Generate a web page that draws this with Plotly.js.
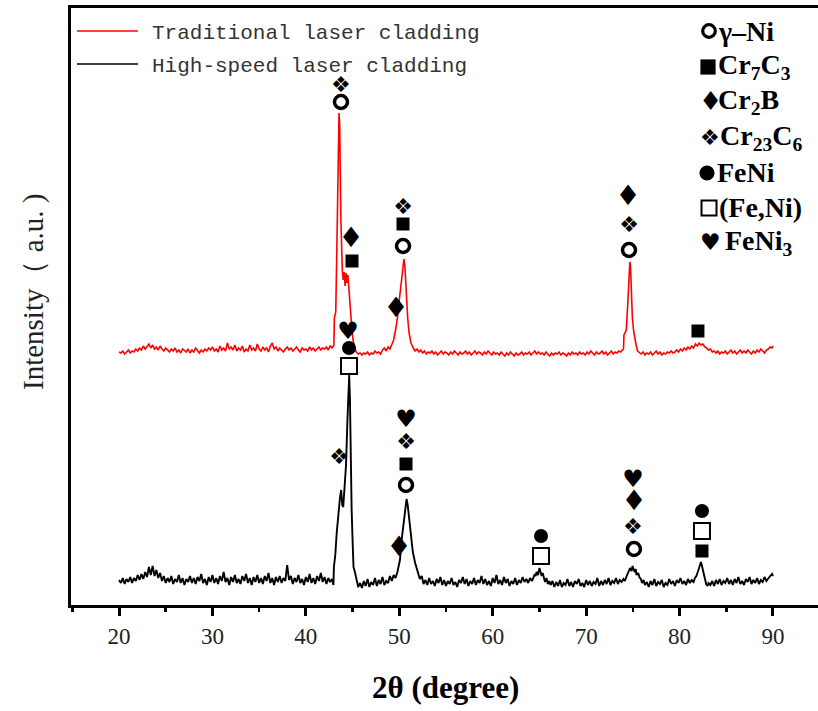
<!DOCTYPE html>
<html>
<head>
<meta charset="utf-8">
<script src="https://cdn.plot.ly/plotly-3.0.1.min.js"></script>
<style>html,body{margin:0;padding:0;background:#fff;}</style>
</head>
<body>
<div id="chart" style="width:818px;height:711px;"></div>
<script>
// ---- XRD patterns: [2θ (deg), intensity (a.u., incl. stacking offset)] ----
// Traditional laser cladding (red, upper pattern)
const redBg1 = [[20.0,253],[20.2,252],[20.4,254],[20.6,251],[20.8,253],[21.0,255],[21.2,252],[21.4,254],[21.6,253],[21.8,256],
  [22.0,254],[22.2,257],[22.4,255],[22.6,259],[22.8,256],[23.0,258],[23.2,261],[23.4,257],[23.6,260],[23.8,256],
  [24.0,258],[24.2,255],[24.4,259],[24.6,256],[24.8,254],[25.0,257],[25.2,255],[25.4,253],[25.6,256],[25.8,254],
  [26.0,257],[26.2,253],[26.4,255],[26.6,252],[26.8,256],[27.0,254],[27.2,253],[27.4,256],[27.6,252],[27.8,255],
  [28.0,253],[28.2,257],[28.4,254],[28.6,252],[28.8,255],[29.0,253],[29.2,256],[29.4,254],[29.6,257],[29.8,255],
  [30.0,258],[30.2,254],[30.4,256],[30.6,253],[30.8,259],[31.0,255],[31.2,257],[31.4,254],[31.6,262],[31.8,256],
  [32.0,258],[32.2,255],[32.4,260],[32.6,254],[32.8,257],[33.0,255],[33.2,259],[33.4,253],[33.6,256],[33.8,254],
  [34.0,260],[34.2,255],[34.4,257],[34.6,254],[34.8,261],[35.0,256],[35.2,254],[35.4,258],[35.6,255],[35.8,257],
  [36.0,253],[36.2,259],[36.4,262],[36.6,256],[36.8,258],[37.0,254],[37.2,257],[37.4,255],[37.6,253],[37.8,256],
  [38.0,258],[38.2,255],[38.4,257],[38.6,254],[38.8,256],[39.0,258],[39.2,255],[39.4,253],[39.6,257],[39.8,255],
  [40.0,256],[40.2,254],[40.4,258],[40.6,255],[40.8,257],[41.0,254],[41.2,256],[41.4,258],[41.6,255],[41.8,257],
  [42.0,256],[42.2,258],[42.4,255],[42.6,259],[42.8,257]];
const redPeak44 = [[43.0,260],[43.05,287],[43.2,293],[43.35,375],[43.48,480],[43.55,492],[43.62,480],[43.75,385],[43.9,335],[44.0,325],
  [44.1,333],[44.2,319],[44.3,332],[44.4,322],[44.5,330],[44.6,315],[44.75,297],[44.9,279],[45.05,265],[45.2,257]];
const redBg2 = [[45.4,253],[45.6,251],[45.8,252],[46.0,250],[46.2,252],[46.4,251],[46.6,253],[46.8,250],[47.0,252],[47.2,251],
  [47.4,254],[47.6,252],[47.8,253],[48.0,251],[48.2,255],[48.4,257],[48.6,254],[48.8,258],[49.0,256]];
const redPeak50 = [[49.2,261],[49.4,265],[49.6,275],[49.8,287],[50.0,305],[50.2,321],[50.38,341],[50.5,346],[50.6,339],[50.75,311],
  [50.9,287],[51.05,272],[51.25,262],[51.5,257],[51.7,254],[51.9,256],[52.1,253],[52.3,255],[52.5,252],[52.7,254],[52.9,251],[53.1,253]];
const redBg3 = [[53.3,252],[53.5,254],[53.7,251],[53.9,253],[54.1,250],[54.3,252],[54.5,254],[54.7,251],[54.9,253],[55.1,252],
  [55.3,250],[55.5,253],[55.7,251],[55.9,254],[56.1,252],[56.3,250],[56.5,253],[56.7,251],[56.9,252],[57.1,254],
  [57.3,251],[57.5,253],[57.7,250],[57.9,252],[58.1,254],[58.3,251],[58.5,253],[58.7,252],[58.9,250],[59.1,253],
  [59.3,251],[59.5,254],[59.7,252],[59.9,250],[60.1,253],[60.3,251],[60.5,252],[60.7,250],[60.9,253],[61.1,251],
  [61.3,249],[61.5,252],[61.7,250],[61.9,253],[62.1,251],[62.3,249],[62.5,252],[62.7,250],[62.9,251],[63.1,253],
  [63.3,250],[63.5,252],[63.7,251],[63.9,253],[64.1,250],[64.3,252],[64.5,254],[64.7,251],[64.9,253],[65.1,251],
  [65.3,252],[65.5,250],[65.7,253],[65.9,251],[66.1,249],[66.3,252],[66.5,250],[66.7,252],[66.9,251],[67.1,253],
  [67.3,250],[67.5,252],[67.7,251],[67.9,249],[68.1,252],[68.3,250],[68.5,253],[68.7,251],[68.9,252],[69.1,250],
  [69.3,253],[69.5,251],[69.7,252],[69.9,250],[70.1,253],[70.3,251],[70.5,254],[70.7,252],[70.9,250],[71.1,253],
  [71.3,251],[71.5,252],[71.7,254],[71.9,251],[72.1,253],[72.3,250],[72.5,252],[72.7,254],[72.9,251],[73.1,253],
  [73.3,252],[73.5,254],[73.7,253]];
const redPeak75 = [[73.9,255],[74.0,256],[74.05,270],[74.3,275],[74.45,300],[74.6,335],[74.68,343],[74.75,339],[74.85,307],[74.95,287],
  [75.1,273],[75.2,267],[75.35,260],[75.5,254],[75.7,252]];
const redBg4 = [[75.9,251],[76.1,253],[76.3,250],[76.5,252],[76.7,251],[76.9,253],[77.1,250],[77.3,252],[77.5,254],[77.7,251],
  [77.9,253],[78.1,250],[78.3,252],[78.5,251],[78.7,253],[78.9,252],[79.1,254],[79.3,252],[79.5,253],[79.7,255],
  [79.9,253],[80.1,256],[80.3,254],[80.5,257],[80.7,255],[80.9,258],[81.1,256],[81.3,259],[81.5,257],[81.7,261],
  [81.9,259],[82.1,262],[82.3,260],[82.5,261],[82.7,258],[82.9,257],[83.1,255],[83.3,256],[83.5,253],[83.7,254],
  [83.9,252],[84.1,254],[84.3,251],[84.5,253],[84.7,252],[84.9,254],[85.1,251],[85.3,253],[85.5,255],[85.7,252],
  [85.9,254],[86.1,251],[86.3,253],[86.5,255],[86.7,252],[86.9,254],[87.1,252],[87.3,255],[87.5,253],[87.7,251],
  [87.9,254],[88.1,252],[88.3,255],[88.5,253],[88.7,256],[88.9,254],[89.1,252],[89.3,255],[89.5,256],[89.7,258],
  [89.9,257],[90.0,259]];

// High-speed laser cladding (black, lower pattern)
const blackBg1 = [[20.0,25],[20.2,22],[20.4,27],[20.6,21],[20.8,26],[21.0,23],[21.2,28],[21.4,22],[21.6,27],[21.8,24],
  [22.0,30],[22.2,25],[22.4,31],[22.6,26],[22.8,33],[23.0,28],[23.2,38],[23.4,30],[23.6,39],[23.8,29],
  [24.0,35],[24.2,27],[24.4,32],[24.6,24],[24.8,29],[25.0,22],[25.2,27],[25.4,23],[25.6,29],[25.8,21],
  [26.0,26],[26.2,23],[26.4,30],[26.6,22],[26.8,27],[27.0,20],[27.2,26],[27.4,23],[27.6,29],[27.8,22],
  [28.0,27],[28.2,21],[28.4,28],[28.6,24],[28.8,31],[29.0,22],[29.2,26],[29.4,20],[29.6,28],[29.8,23],
  [30.0,30],[30.2,22],[30.4,27],[30.6,21],[30.8,29],[31.0,24],[31.2,33],[31.4,23],[31.6,27],[31.8,20],
  [32.0,28],[32.2,23],[32.4,30],[32.6,22],[32.8,26],[33.0,21],[33.2,29],[33.4,24],[33.6,31],[33.8,22],
  [34.0,27],[34.2,20],[34.4,28],[34.6,23],[34.8,30],[35.0,22],[35.2,27],[35.4,21],[35.6,29],[35.8,24],
  [36.0,32],[36.2,22],[36.4,27],[36.6,20],[36.8,28],[37.0,23],[37.2,29],[37.4,22],[37.6,27],[37.8,24],
  [38.0,40],[38.2,25],[38.4,29],[38.6,21],[38.8,27],[39.0,23],[39.2,30],[39.4,22],[39.6,26],[39.8,20],
  [40.0,28],[40.2,23],[40.4,31],[40.6,22],[40.8,27],[41.0,21],[41.2,29],[41.4,24],[41.6,32],[41.8,23],
  [42.0,28],[42.2,21],[42.4,27],[42.6,23],[42.8,26]];
const blackPeak44 = [[42.95,20],[43.0,38],[43.15,50],[43.3,72],[43.5,95],[43.65,107],[43.78,115],[43.9,100],[44.0,98],[44.15,115],
  [44.3,140],[44.45,185],[44.58,225],[44.64,230],[44.72,205],[44.8,138],[44.9,95],[45.0,65],[45.1,38],[45.25,33],[45.4,27],[45.6,18]];
const blackBg2 = [[45.8,22],[46.0,17],[46.2,24],[46.4,19],[46.6,26],[46.8,18],[47.0,23],[47.2,20],[47.4,27],[47.6,19],
  [47.8,25],[48.0,21],[48.2,28],[48.4,20],[48.6,24],[48.8,22],[49.0,29],[49.2,24],[49.4,30],[49.6,27]];
const blackPeak51 = [[49.8,33],[49.9,39],[50.07,45],[50.25,65],[50.45,83],[50.6,92],[50.78,106],[50.9,100],[51.03,88],[51.15,75],
  [51.25,65],[51.45,53],[51.7,42],[52.0,32],[52.2,26],[52.4,29],[52.6,21]];
const blackBg3 = [[52.8,25],[53.0,20],[53.2,27],[53.4,21],[53.6,24],[53.8,19],[54.0,26],[54.2,22],[54.4,28],[54.6,20],
  [54.8,25],[55.0,19],[55.2,24],[55.4,21],[55.6,27],[55.8,20],[56.0,23],[56.2,18],[56.4,25],[56.6,22],
  [56.8,28],[57.0,21],[57.2,26],[57.4,19],[57.6,24],[57.8,21],[58.0,27],[58.2,20],[58.4,25],[58.6,22],
  [58.8,29],[59.0,21],[59.2,26],[59.4,20],[59.6,24],[59.8,19],[60.0,27],[60.2,22],[60.4,30],[60.6,21],
  [60.8,25],[61.0,20],[61.2,28],[61.4,22],[61.6,26],[61.8,19],[62.0,24],[62.2,21],[62.4,27],[62.6,20],
  [62.8,25],[63.0,22],[63.2,28],[63.4,23],[63.6,26],[63.8,22],[64.0,27],[64.2,24]];
const blackPeak65 = [[64.35,27],[64.5,31],[64.6,29],[64.7,33],[64.85,30],[65.0,37],[65.12,33],[65.24,29],[65.35,32],[65.45,27],
  [65.6,23],[65.75,27],[65.9,21],[66.05,24]];
const blackBg4 = [[66.2,20],[66.4,24],[66.6,18],[66.8,23],[67.0,19],[67.2,25],[67.4,18],[67.6,22],[67.8,20],[68.0,26],
  [68.2,19],[68.4,23],[68.6,18],[68.8,24],[69.0,21],[69.2,26],[69.4,19],[69.6,22],[69.8,18],[70.0,25],
  [70.2,20],[70.4,24],[70.6,19],[70.8,23],[71.0,21],[71.2,27],[71.4,19],[71.6,24],[71.8,20],[72.0,25],
  [72.2,21],[72.4,27],[72.6,20],[72.8,24],[73.0,22],[73.2,27],[73.4,21],[73.6,25],[73.8,23],[74.0,26]];
const blackPeak75 = [[74.15,24],[74.3,28],[74.45,31],[74.6,35],[74.7,37],[74.85,34],[74.97,39],[75.1,35],[75.2,33],[75.3,36],
  [75.4,30],[75.57,32],[75.7,28],[75.85,26],[76.0,22],[76.15,25]];
const blackBg5 = [[76.3,20],[76.5,23],[76.7,18],[76.9,24],[77.1,20],[77.3,26],[77.5,19],[77.7,23],[77.9,21],[78.1,25],
  [78.3,18],[78.5,22],[78.7,20],[78.9,26],[79.1,21],[79.3,24],[79.5,19],[79.7,25],[79.9,22],[80.1,27],
  [80.3,21],[80.5,24],[80.7,20],[80.9,26],[81.1,22],[81.3,25],[81.5,23]];
const blackPeak82 = [[81.65,27],[81.8,29],[81.95,33],[82.08,38],[82.2,42],[82.29,43],[82.4,39],[82.54,33],[82.65,29],[82.75,25],
  [82.85,21],[83.0,19],[83.1,22]];
const blackBg6 = [[83.3,20],[83.5,24],[83.7,19],[83.9,25],[84.1,21],[84.3,26],[84.5,20],[84.7,24],[84.9,22],[85.1,27],
  [85.3,21],[85.5,25],[85.7,20],[85.9,26],[86.1,22],[86.3,28],[86.5,21],[86.7,24],[86.9,20],[87.1,26],
  [87.3,23],[87.5,28],[87.7,21],[87.9,25],[88.1,22],[88.3,27],[88.5,21],[88.7,25],[88.9,23],[89.1,28],
  [89.3,24],[89.5,27],[89.7,29],[89.9,31],[90.0,29]];

const redSegments = [redBg1, redPeak44, redBg2, redPeak50, redBg3, redPeak75, redBg4];
const blackSegments = [blackBg1, blackPeak44, blackBg2, blackPeak51, blackBg3, blackPeak65, blackBg4, blackPeak75, blackBg5, blackPeak82, blackBg6];

// ---- phase identification marks (2θ, height in the same a.u.) ----
const gammaNiX = [43.76, 50.40, 74.59, 50.72, 75.12];
const gammaNiY = [503, 359, 355, 120, 56];
const cr7c3X = [44.94, 50.40, 81.97, 50.72, 82.40];
const cr7c3Y = [344, 381, 274, 141, 54];
const cr2bX = [44.83, 49.65, 74.48, 49.97, 75.12];
const cr2bY = [365, 295, 407, 56, 102];
const cr23c6X = [43.76, 50.40, 74.59, 43.55, 50.72, 75.01];
const cr23c6Y = [519, 397, 379, 147, 162, 77];
const feNiX = [44.62, 65.17, 82.40];
const feNiY = [257, 69, 94];
const feNiSsX = [44.62, 65.17, 82.40];
const feNiSsY = [239, 49, 74];
const feNi3X = [44.51, 50.72, 75.01];
const feNi3Y = [272, 184, 124];

const seriesNames = ['Traditional laser cladding', 'High-speed laser cladding'];
const xTicks = [20, 30, 40, 50, 60, 70, 80, 90];
const phaseLabels = ['γ–Ni', 'Cr<sub>7</sub>C<sub>3</sub>', 'Cr<sub>2</sub>B', 'Cr<sub>23</sub>C<sub>6</sub>', 'FeNi', '(Fe,Ni)', 'FeNi<sub>3</sub>'];

const flat = segs => segs.reduce((a, s) => a.concat(s), []);
const redPts = flat(redSegments), blackPts = flat(blackSegments);

const glyphFont = 'DejaVu Sans';
const traces = [
  {x: redPts.map(p => p[0]), y: redPts.map(p => p[1]), mode: 'lines', line: {color: '#ff0000', width: 1.6}, hoverinfo: 'skip'},
  {x: blackPts.map(p => p[0]), y: blackPts.map(p => p[1]), mode: 'lines', line: {color: '#000000', width: 1.9}, hoverinfo: 'skip'},
  {x: gammaNiX, y: gammaNiY, mode: 'markers', marker: {symbol: 'circle-open', size: 13, color: '#000', line: {width: 3.5, color: '#000'}}},
  {x: cr7c3X, y: cr7c3Y, mode: 'markers', marker: {symbol: 'square', size: 13, color: '#000'}},
  {x: feNiX, y: feNiY, mode: 'markers', marker: {symbol: 'circle', size: 14, color: '#000'}},
  {x: feNiSsX, y: feNiSsY, mode: 'markers', marker: {symbol: 'square-open', size: 16, color: '#000', line: {width: 2, color: '#000'}}},
  {x: cr2bX, y: cr2bY, mode: 'text', text: cr2bX.map(() => '♦'), textposition: 'middle center', textfont: {family: glyphFont, size: 28, color: '#000'}},
  {x: cr23c6X, y: cr23c6Y, mode: 'text', text: cr23c6X.map(() => '❖'), textposition: 'middle center', textfont: {family: glyphFont, size: 22, color: '#000'}},
  {x: feNi3X, y: feNi3Y, mode: 'text', text: feNi3X.map(() => '♥'), textposition: 'middle center', textfont: {family: glyphFont, size: 24, color: '#000'}}
];
traces.forEach(t => { t.showlegend = false; t.cliponaxis = false; });

// paper coords helpers (plot area: 747 x 597 px)
const L = 71, T = 8, W = 747, H = 597;
const px = v => (v - L) / W;
const py = v => (T + H - v) / H;

const annotations = [];
const shapes = [];
// line legend (top left)
const legendLineColors = ['#ff0000', '#000000'];
const legendRowsY = [31, 64];
seriesNames.forEach((name, i) => {
  shapes.push({type: 'line', xref: 'paper', yref: 'paper', x0: px(77), x1: px(138), y0: py(legendRowsY[i]), y1: py(legendRowsY[i]), line: {color: legendLineColors[i], width: 1.5}});
  annotations.push({xref: 'paper', yref: 'paper', x: px(150), y: py(legendRowsY[i] + 2), xanchor: 'left', yanchor: 'middle', showarrow: false, text: name, font: {family: 'Liberation Mono', size: 21, color: '#333'}});
});
// phase legend (top right): glyph + label
const phaseRowsY = [31, 67, 101, 137, 173, 208, 242];
const labelLeftX = [716, 716, 716, 718, 715, 717, 723];
// geometric legend glyphs drawn as shapes: [type, cx, cy, half-size, filled, linewidth]
const legendShapes = [['circle', 709, 31, 6.3, false, 3.2], ['rect', 708, 67, 7.6, true, 0], ['circle', 707, 173, 7.6, true, 0], ['rect', 709, 208, 7.5, false, 2]];
legendShapes.forEach(s => {
  const [type, cx, cy, r, filled, lw] = s;
  shapes.push({type: type, xref: 'paper', yref: 'paper', x0: px(cx - r), x1: px(cx + r), y0: py(cy + r), y1: py(cy - r),
    fillcolor: filled ? '#000' : 'rgba(0,0,0,0)', line: {color: '#000', width: filled ? 0 : lw}});
});
// character legend glyphs
const charGlyphs = [['♦', 710, 101, 26], ['❖', 710, 137, 22], ['♥', 710, 242, 23]];
charGlyphs.forEach(g => {
  annotations.push({xref: 'paper', yref: 'paper', x: px(g[1]), y: py(g[2]), xanchor: 'center', yanchor: 'middle', showarrow: false,
    text: g[0], font: {family: 'DejaVu Sans', size: g[3], color: '#000'}});
});
phaseLabels.forEach((lab, i) => {
  annotations.push({xref: 'paper', yref: 'paper', x: px(labelLeftX[i]), y: py(phaseRowsY[i]), xanchor: 'left', yanchor: 'middle', showarrow: false,
    text: lab, font: {family: 'Liberation Serif', size: 28, color: '#000', weight: 'bold'}});
});
// axis titles
annotations.push({xref: 'paper', yref: 'paper', x: px(445), y: py(688), xanchor: 'center', yanchor: 'middle', showarrow: false,
  text: '<b>2θ (degree)</b>', font: {family: 'Liberation Serif', size: 31, color: '#000'}});
annotations.push({xref: 'paper', yref: 'paper', x: px(33), y: py(292), xanchor: 'center', yanchor: 'middle', showarrow: false, textangle: -90,
  text: 'Intensity（ a.u. )', font: {family: 'Liberation Serif', size: 29, color: '#222'}});

const layout = {
  width: 818, height: 711,
  margin: {l: 71, r: 0, t: 8, b: 106},
  paper_bgcolor: '#fff', plot_bgcolor: '#fff',
  showlegend: false,
  xaxis: {
    range: [14.86, 94.82], tickvals: xTicks, ticktext: xTicks.map(String),
    ticks: 'outside', ticklen: 8, tickwidth: 3, tickcolor: '#000',
    minor: {dtick: 5, tick0: 0, ticks: 'outside', ticklen: 4, tickwidth: 2.5, tickcolor: '#000'},
    showline: true, linewidth: 3, linecolor: '#000', mirror: true,
    showgrid: false, zeroline: false,
    tickfont: {family: 'Liberation Serif', size: 23, color: '#222'}
  },
  yaxis: {
    range: [0, 597], showticklabels: false, ticks: '',
    showline: true, linewidth: 3, linecolor: '#000', mirror: false,
    showgrid: false, zeroline: false
  },
  annotations: annotations,
  shapes: shapes
};

Plotly.newPlot('chart', traces, layout, {displayModeBar: false, staticPlot: true});
</script>
</body>
</html>
